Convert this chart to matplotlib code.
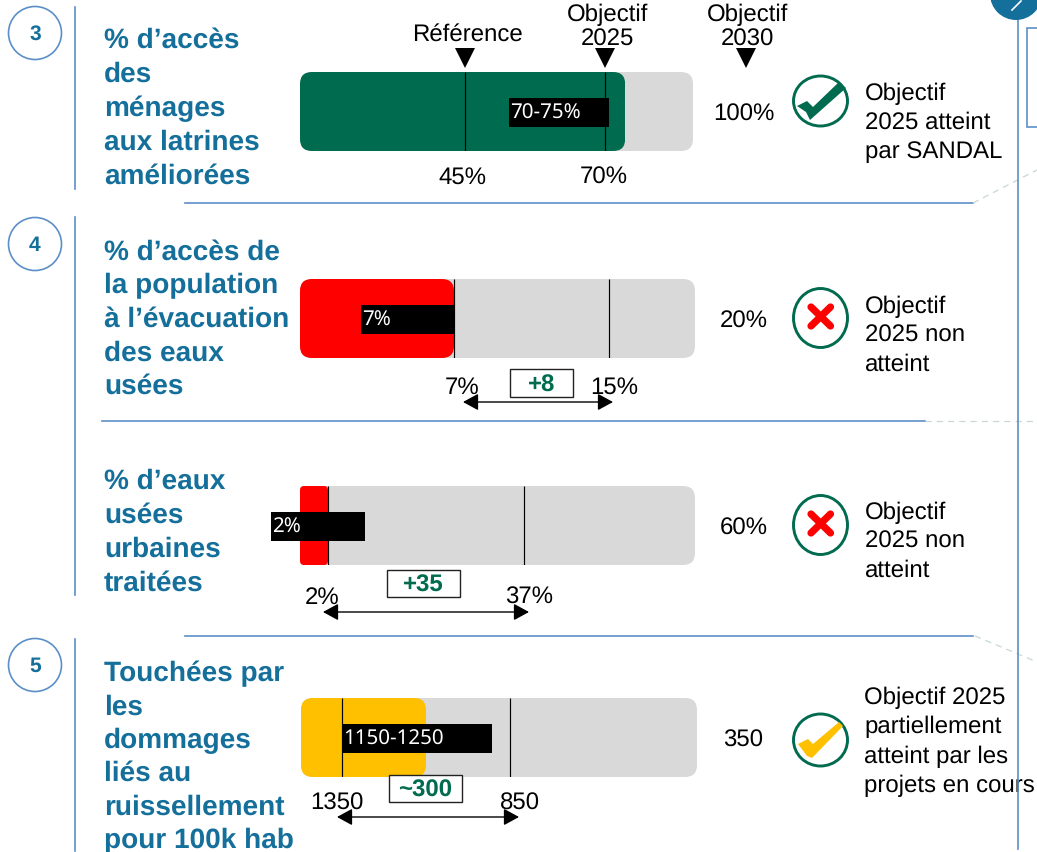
import matplotlib
matplotlib.use('Agg')
import matplotlib.pyplot as plt
from matplotlib.patches import FancyBboxPatch, Circle, Ellipse, Polygon, Rectangle

W, H = 1037, 853

# data
titles = [["% d’accès", "des", "ménages", "aux latrines", "améliorées"],
          ["% d’accès de", "la population", "à l’évacuation", "des eaux", "usées"],
          ["% d’eaux", "usées", "urbaines", "traitées"],
          ["Touchées par", "les", "dommages", "liés au", "ruissellement", "pour 100k hab"]]
reference = [45, 7, 2, 1350]
target_2025 = [70, 15, 37, 850]
achieved = [73.6, 7, 2, 1100]
project_low = [52.9, 2.2, -8.2, 1350]
project_high = [70.7, 7, 8.6, 904]
project_labels = ["70-75%", "7%", "2%", "1150-1250"]
reference_labels = ["45%", "7%", "2%", "1350"]
target_labels = ["70%", "15%", "37%", "850"]
target_2030_labels = ["100%", "20%", "60%", "350"]
gap_labels = [None, "+8", "+35", "~300"]
status_lines = [["Objectif", "2025 atteint", "par SANDAL"],
                ["Objectif", "2025 non", "atteint"],
                ["Objectif", "2025 non", "atteint"],
                ["Objectif 2025", "partiellement", "atteint par les", "projets en cours"]]
status = ["ok", "fail", "fail", "partial"]
fill_colors = ["#006B4F", "#FF0000", "#FF0000", "#FFC000"]

BLUE = "#156F9B"
LINE = "#5B8FC7"
GREEN = "#006B4F"
GREY = "#D9D9D9"

plt.rcParams['font.family'] = ['Liberation Sans', 'DejaVu Sans']
plt.rcParams['text.hinting'] = 'no_hinting'
plt.rcParams['text.hinting_factor'] = 1
fig = plt.figure(figsize=(W / 100, H / 100), dpi=100)
px = fig.add_axes([0, 0, 1, 1])
px.set_xlim(0, W)
px.set_ylim(H - 1, -1)
px.axis('off')
px.set_zorder(5)


def label(x, y, s, size=17.4, ha='left', **kw):
    px.text(x, y - 1, s, fontsize=size, ha=ha, va='baseline', **kw)


def rounded(x0, x1, y0, y1):
    r = 12 if x1 - x0 > 40 else 4
    return FancyBboxPatch((x0 + r, y0 + r), x1 - x0 - 2 * r, y1 - y0 - 2 * r,
                          boxstyle="round,pad=%d,rounding_size=%d" % (r, r), transform=px.transData)


# layout of each row, in pixels
bar_left = [300, 300, 300, 301]
bar_right = [693, 695, 695, 697]
bar_top = [72, 279, 486, 698]
ref_px = [465, 454, 328, 342]
tgt_px = [605, 609, 524, 510]
title_y = [48, 260, 489, 681]
title_step = [33.9, 33.5, 34, 33.4]
ref_text_x = [462.5, 462.5, 322, 337]
tgt_text_x = [604, 614, 529, 519.5]
tick_y = [184, 394, 604, 810]
arrow = [None, (463, 613, 402), (323, 529, 612), (337, 519, 817)]
gap_box = [None, (510, 369, 63, 28), (387, 570, 73, 27), (389, 775, 73, 27)]
status_x = [865, 865, 865, 864]
status_y = [100, 313, 519, 704]
status_step = [29, 29, 29, 29.3]
value_y = [121, 328, 535, 747]
value_x = [743.5, 743.5, 743.5, 743.5]
icon_y = [101, 318, 525, 740]
icon_h = [50, 59, 59, 52]

for i in range(4):
    top = bar_top[i]
    ax = fig.add_axes([bar_left[i] / W, 1 - (top + 80) / H,
                       (bar_right[i] - bar_left[i]) / W, 79 / H])
    # scale from the two marked values
    k = (target_2025[i] - reference[i]) / (tgt_px[i] - ref_px[i])
    lo = reference[i] + (bar_left[i] - ref_px[i]) * k
    hi = reference[i] + (bar_right[i] - ref_px[i]) * k
    ax.set_xlim(lo, hi)
    ax.set_ylim(0, 1)
    ax.axis('off')
    ax.patch.set_alpha(0)

    fill_end = ref_px[i] + (achieved[i] - reference[i]) / k
    track = ax.barh(0.5, hi - lo, left=lo, height=1, color=GREY, linewidth=0)[0]
    fill = ax.barh(0.5, achieved[i] - lo, left=lo, height=1, color=fill_colors[i], linewidth=0)[0]
    track.set_clip_path(rounded(bar_left[i], bar_right[i], top, top + 79))
    fill.set_clip_path(rounded(bar_left[i], fill_end, top, top + 79))
    ax.barh(0.49, project_high[i] - project_low[i], left=project_low[i], height=0.37,
            color='black', linewidth=0, clip_on=False, zorder=3)
    ax.vlines([reference[i], target_2025[i]], 0, 1, color='black', linewidth=0.85, zorder=4)
    ax.text(project_low[i] + k, 0.49, project_labels[i], color='white',
            fontsize=14.8, family=['Noto Sans', 'DejaVu Sans'], ha='left', va='center',
            zorder=5, clip_on=False)

    for j, line in enumerate(titles[i]):
        label(104, title_y[i] + j * title_step[i], line, size=20, color=BLUE, fontweight='bold')
    label(ref_text_x[i], tick_y[i], reference_labels[i], ha='center')
    label(tgt_text_x[i], tick_y[i], target_labels[i], ha='center')
    label(value_x[i], value_y[i], target_2030_labels[i], ha='center')
    for j, line in enumerate(status_lines[i]):
        label(status_x[i], status_y[i] + j * status_step[i], line)

    if arrow[i]:
        x0, x1, y = arrow[i]
        px.annotate("", xy=(x0, y), xytext=(x1, y),
                    arrowprops=dict(arrowstyle="<|-|>,head_length=0.55,head_width=0.3", color='black',
                                    lw=1, shrinkA=0, shrinkB=0, mutation_scale=17))
        bx, by, bw, bh = gap_box[i]
        px.add_patch(Rectangle((bx, by), bw, bh, facecolor='white', edgecolor='#222222', lw=1, zorder=6))
        px.text(bx + bw / 2, by + bh / 2 + 7.5, gap_labels[i], color=GREEN, fontsize=17, fontweight='bold',
                ha='center', va='baseline', zorder=7)

    # status icon
    cy = icon_y[i]
    px.add_patch(Ellipse((820.5, cy), 54, icon_h[i], facecolor='white', edgecolor=GREEN, lw=2.1))
    if status[i] == "fail":
        px.plot([811, 830.5], [cy - 11, cy + 8], color='#FF0000', lw=5.2, solid_capstyle='round')
        px.plot([830.5, 811], [cy - 11, cy + 8], color='#FF0000', lw=5.2, solid_capstyle='round')
    elif status[i] == "ok":
        shape = [(797, cy + 5), (807, cy), (813, cy + 6), (839, cy - 19), (846, cy - 13),
                 (810, cy + 19), (806, cy + 11)]
        px.add_patch(Polygon(shape, closed=True, facecolor=GREEN, edgecolor='none', zorder=3))
    else:
        shape = [(798, cy + 4), (808, cy - 1), (813, cy + 4), (839, cy - 18), (843, cy - 14),
                 (812, cy + 18), (807, cy + 16)]
        px.add_patch(Polygon(shape, closed=True, facecolor="#FFC000", edgecolor='none', zorder=3))

# header of the first row
label(467, 41, "Référence", ha='center')
label(607.5, 21, "Objectif", ha='center')
label(607.5, 46, "2025", ha='center')
label(747.5, 21, "Objectif", ha='center')
label(747.5, 46, "2030", ha='center')
for x in [465, 605, 746]:
    px.add_patch(Polygon([(x - 10, 48), (x + 10, 48), (x, 68)], closed=True, facecolor='black', edgecolor='none'))

# numbered circles and frame lines
for n, cy, y0, y1 in [("3", 33, 7, 189), ("4", 244, 217, 595), ("5", 665, 639, 851)]:
    px.add_patch(Circle((35, cy), 26.5, facecolor='white', edgecolor=LINE, lw=1.2))
    px.text(35, cy + 6, n, color=BLUE, fontsize=15, fontweight='bold', ha='center', va='baseline')
    px.plot([75, 75], [y0, y1], color=LINE, lw=1.2)

for x0, x1, y in [(185, 973, 203), (102, 925, 421), (185, 973, 636)]:
    px.plot([x0, x1], [y, y], color=LINE, lw=1.2)
for xs, ys in [((973, 1037), (203, 170)), ((925, 1037), (421, 421)), ((975, 1037), (636, 662))]:
    px.plot(xs, ys, color='#C9D6D6', lw=0.9, ls=(0, (5, 4)))

# right hand panel, cut off by the crop
px.plot([1018, 1018], [0, 849], color=LINE, lw=1.2, zorder=8)
px.add_patch(Circle((1016, -6), 26, facecolor='#156F9B', edgecolor='none', zorder=9))
px.plot([1012, 1021], [10, 1], color='white', lw=1.2, zorder=10)
px.add_patch(Rectangle((1027, 28), 20, 99, facecolor='white', edgecolor=LINE, lw=1.2))

fig.savefig('out.png', dpi=100)
